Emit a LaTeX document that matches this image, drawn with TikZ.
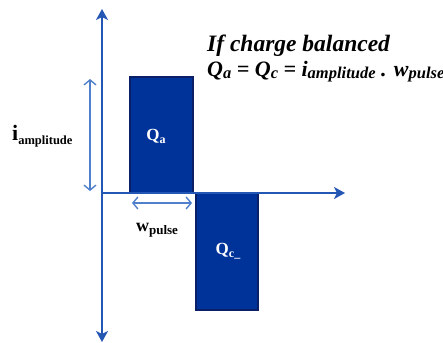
\documentclass[tikz,border=0pt]{standalone}
\usepackage{fontspec}
\setmainfont{Liberation Serif}
\usetikzlibrary{arrows.meta}
\definecolor{axisblue}{HTML}{2456B4}
\definecolor{rectfill}{HTML}{003399}
\definecolor{rectedge}{HTML}{0A1F66}
\definecolor{dimblue}{HTML}{5080CC}
\tikzset{
  axisline/.style={draw=axisblue, line width=2.6pt, -{Stealth[length=11pt,width=12pt,inset=3pt]}},
  pulse/.style={fill=rectfill, draw=rectedge, line width=1.2pt},
  dimarrow/.style={draw=dimblue, line width=1.4pt, {Straight Barb[length=5pt,width=12pt]}-{Straight Barb[length=5pt,width=12pt]}},
  lbl/.style={inner sep=0pt, font=\bfseries},
  qlbl/.style={inner sep=0pt, text=white, font=\bfseries\fontsize{17}{19}\selectfont}
}
\begin{document}
\begin{tikzpicture}[x=1pt,y=-1pt]
\useasboundingbox (0,0) rectangle (443,342);
% coordinates
\coordinate (o) at (102,193);
\coordinate (ytop) at (102,9);
\coordinate (ybot) at (102,342);
\coordinate (xend) at (345,193);
% pulses
\path[pulse] (130,77) rectangle (193,193);
\path[pulse] (196,193) rectangle (258,310);
% axes
\draw[axisline] (o) -- (ytop);
\draw[axisline] (o) -- (ybot);
\draw[axisline] (o) -- (xend);
% dimension arrows
\coordinate (ia1) at (90,79);
\coordinate (ia2) at (90,191);
\draw[dimarrow] (ia1) -- (ia2);
\coordinate (wp1) at (132,203);
\coordinate (wp2) at (192,203);
\draw[dimarrow] (wp1) -- (wp2);
% labels
\node[qlbl] (qalbl) at (156,136) {Q\raisebox{-3pt}{\fontsize{12}{12}\selectfont a}};
\node[qlbl] (qclbl) at (228,251) {Q\raisebox{-3pt}{\fontsize{12}{12}\selectfont c\_}};
\node[lbl, anchor=west] (iamp) at (12,136) {\fontsize{22}{22}\selectfont i\raisebox{-3.5pt}{\fontsize{12.5}{13}\selectfont amplitude}};
\node[lbl] (wpulse) at (157,230) {\fontsize{18}{18}\selectfont w\raisebox{-3.5pt}{\fontsize{13}{13}\selectfont pulse}};
\node[lbl, anchor=west, font=\bfseries\itshape\fontsize{23.5}{25}\selectfont] (title) at (207,46) {If charge balanced};
\node[lbl, anchor=west, font=\bfseries\itshape\fontsize{22}{23}\selectfont] (eq) at (207,72) {Q\raisebox{-2pt}{\fontsize{16.5}{17}\selectfont a} = Q\raisebox{-2pt}{\fontsize{16.5}{17}\selectfont c} = i\raisebox{-2pt}{\fontsize{16.5}{17}\selectfont amplitude} . w\raisebox{-2pt}{\fontsize{16.5}{17}\selectfont pulse}};
\end{tikzpicture}
\end{document}
